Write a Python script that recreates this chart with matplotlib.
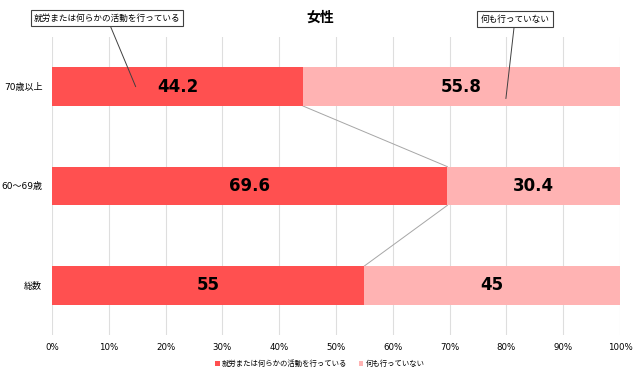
import matplotlib
matplotlib.use("Agg")
import matplotlib.pyplot as plt

plt.rcParams["font.family"] = ["DejaVu Sans", "Noto Sans CJK JP"]

categories = ["70歳以上", "60～69歳", "総数"]
active = [44.2, 69.6, 55]
inactive = [55.8, 30.4, 45]
active_labels = ["44.2", "69.6", "55"]
inactive_labels = ["55.8", "30.4", "45"]
series_names = ["就労または何らかの活動を行っている", "何も行っていない"]
title = "女性"

RED = "#FF5050"
PINK = "#FFB3B3"
BAR_H = 0.39


def main():
    fig = plt.figure(figsize=(6.4, 3.75), dpi=100)
    ax = fig.add_axes([52 / 640, 1 - 335 / 375, 568 / 640, 298 / 375])

    ys = list(range(len(categories)))
    ax.barh(ys, active, height=BAR_H, color=RED, label=series_names[0], zorder=3)
    ax.barh(ys, inactive, left=active, height=BAR_H, color=PINK,
            label=series_names[1], zorder=3)

    for y, a, b, la, lb in zip(ys, active, inactive, active_labels, inactive_labels):
        ax.text(a / 2, y, la, ha="center", va="center", fontsize=12,
                fontweight="bold", color="black", zorder=4)
        ax.text(a + b / 2, y, lb, ha="center", va="center", fontsize=12,
                fontweight="bold", color="black", zorder=4)

    # series lines between bars
    for i in range(len(categories) - 1):
        ax.plot([active[i], active[i + 1]],
                [ys[i] + BAR_H / 2, ys[i + 1] - BAR_H / 2],
                color="#a6a6a6", lw=0.7, zorder=2)

    ax.set_xlim(0, 100)
    ax.set_ylim(len(categories) - 0.5, -0.5)
    ax.set_xticks(range(0, 101, 10))
    ax.set_xticklabels([f"{v}%" for v in range(0, 101, 10)], fontsize=6.2)
    ax.set_yticks(ys)
    ax.set_yticklabels(categories, fontsize=6.5)
    ax.tick_params(length=0)
    ax.tick_params(axis="x", pad=6)
    ax.tick_params(axis="y", pad=7)
    ax.grid(axis="x", color="#dedede", lw=0.8, zorder=0)
    for s in ax.spines.values():
        s.set_visible(False)

    fig.text(0.5, 1 - 18 / 375, title, ha="center", va="center",
             fontsize=10, fontweight="bold")

    box = dict(boxstyle="square,pad=0.35", fc="white", ec="#404040", lw=0.8)
    arrow = dict(arrowstyle="-", color="#404040", lw=0.7, shrinkA=0, shrinkB=0)
    ax.annotate(series_names[0], xy=(active[0] / 3, ys[0]), xycoords="data",
                xytext=(107 / 640, 1 - 18 / 375), textcoords="figure fraction",
                ha="center", va="center", fontsize=6.2, bbox=box, arrowprops=arrow)
    ax.annotate(series_names[1], xy=(active[0] + inactive[0] * 0.64, ys[0] + 0.12),
                xycoords="data",
                xytext=(515 / 640, 1 - 19 / 375), textcoords="figure fraction",
                ha="center", va="center", fontsize=6.2, bbox=box, arrowprops=arrow)

    fig.legend(*ax.get_legend_handles_labels(), loc="center",
               bbox_to_anchor=(0.5, 1 - 363 / 375), ncol=2, frameon=False,
               fontsize=5.3, handlelength=0.6, handleheight=0.6, handletextpad=0.3,
               columnspacing=1.6)

    fig.savefig("out.png", dpi=100)


if __name__ == "__main__":
    main()
